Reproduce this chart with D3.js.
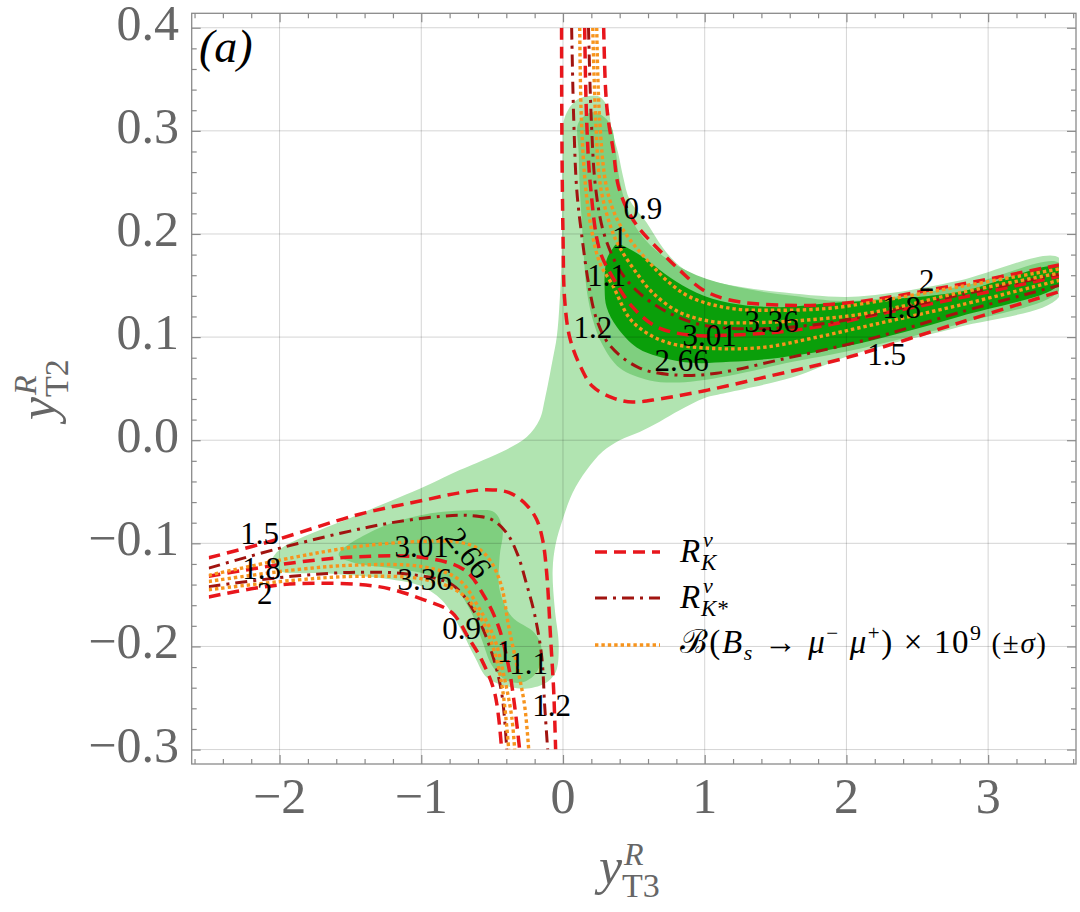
<!DOCTYPE html>
<html>
<head>
<meta charset="utf-8">
<script src="https://cdn.jsdelivr.net/npm/d3@7"></script>
<style>
  body { margin: 0; background: #fff; }
  svg { display: block; }
</style>
</head>
<body>
<svg width="1080" height="912" font-family="'Liberation Serif', 'DejaVu Serif', 'Noto Serif', Times, serif"></svg>
<script>
// ---- data ----
const xDomain = [-2.62, 3.62];
const yDomain = [-0.314, 0.414];
const xMajor = [-2, -1, 0, 1, 2, 3];
const xMajorLabels = ["\u22122", "\u22121", "0", "1", "2", "3"];
const yMajor = [-0.3, -0.2, -0.1, 0, 0.1, 0.2, 0.3, 0.4];
const yMajorLabels = ["\u22120.3", "\u22120.2", "\u22120.1", "0.0", "0.1", "0.2", "0.3", "0.4"];

// filled regions
const lightRegion = [[0.21,0.334],[0.259,0.333],[0.315,0.323],[0.344,0.301],[0.39,0.278],[0.425,0.255],[0.471,0.233],[0.591,0.211],[0.703,0.187],[0.823,0.169],[0.965,0.158],[1.155,0.151],[1.508,0.144],[2.0,0.139],[2.327,0.143],[2.8,0.155],[3.5,0.177],[3.5,0.139],[2.8,0.110],[2.327,0.094],[2.0,0.081],[1.621,0.061],[1.155,0.046],[1.0,0.041],[0.823,0.029],[0.682,0.018],[0.541,0.008],[0.40,0.0],[0.28,-0.011],[0.167,-0.029],[0.068,-0.051],[-0.002,-0.077],[-0.052,-0.101],[-0.073,-0.126],[-0.059,-0.162],[-0.03,-0.2],[-0.052,-0.225],[-0.129,-0.236],[-0.27,-0.241],[-0.411,-0.238],[-0.538,-0.230],[-0.623,-0.210],[-0.743,-0.178],[-0.856,-0.155],[-1.011,-0.141],[-1.209,-0.135],[-1.682,-0.129],[-1.998,-0.127],[-2.055,-0.118],[-1.998,-0.106],[-1.442,-0.072],[-0.976,-0.045],[-0.729,-0.029],[-0.609,-0.022],[-0.426,-0.011],[-0.256,0.003],[-0.165,0.020],[-0.129,0.039],[-0.073,0.078],[-0.044,0.100],[-0.023,0.136],[-0.009,0.181],[-0.002,0.278],[0.012,0.313],[0.097,0.330]];
const mediumUpper = [[0.139,0.313],[0.21,0.318],[0.294,0.313],[0.344,0.303],[0.372,0.281],[0.40,0.252],[0.45,0.226],[0.541,0.201],[0.703,0.179],[0.943,0.160],[1.247,0.148],[1.621,0.140],[2.0,0.135],[2.8,0.149],[3.5,0.172],[3.5,0.145],[2.8,0.113],[2.0,0.086],[1.621,0.076],[1.155,0.062],[0.823,0.056],[0.612,0.058],[0.40,0.070],[0.28,0.092],[0.21,0.117],[0.167,0.146],[0.146,0.181],[0.132,0.213],[0.118,0.245],[0.111,0.278],[0.104,0.306]];
const mediumLower = [[-1.583,-0.111],[-1.329,-0.087],[-0.976,-0.072],[-0.623,-0.068],[-0.482,-0.070],[-0.426,-0.087],[-0.447,-0.113],[-0.447,-0.145],[-0.362,-0.171],[-0.20,-0.187],[-0.15,-0.203],[-0.186,-0.225],[-0.291,-0.235],[-0.411,-0.232],[-0.503,-0.218],[-0.574,-0.193],[-0.658,-0.164],[-0.764,-0.143],[-0.941,-0.131],[-1.209,-0.124],[-1.47,-0.119]];
const darkUpper = [[0.351,0.186],[0.308,0.175],[0.294,0.146],[0.308,0.129],[0.379,0.110],[0.52,0.090],[0.703,0.080],[0.915,0.075],[1.176,0.076],[1.529,0.080],[2.0,0.091],[2.8,0.120],[3.5,0.151],[3.5,0.168],[2.8,0.144],[2.235,0.136],[1.882,0.133],[1.529,0.129],[1.176,0.133],[0.943,0.143],[0.753,0.158],[0.591,0.175],[0.45,0.187],[0.379,0.190]];

// R_K^nu contours (red dashed)
const rkUpOuter = [[-0.01,0.40],[-0.008,0.30],[0.0,0.20],[0.012,0.136],[0.047,0.100],[0.118,0.073],[0.21,0.052],[0.351,0.041],[0.492,0.037],[0.682,0.040],[1.0,0.048],[1.388,0.060],[2.0,0.080],[2.8,0.114],[3.5,0.144]];
const rkUpMid = [[0.153,0.40],[0.167,0.31],[0.195,0.245],[0.259,0.184],[0.351,0.158],[0.492,0.129],[0.661,0.110],[0.894,0.102],[1.198,0.102],[1.529,0.105],[1.882,0.112],[2.186,0.121],[2.8,0.138],[3.5,0.159]];
const rkUpInner = [[0.287,0.40],[0.301,0.339],[0.32,0.31],[0.355,0.281],[0.39,0.247],[0.46,0.222],[0.54,0.205],[0.682,0.184],[0.823,0.165],[0.986,0.146],[1.176,0.136],[1.529,0.131],[2.0,0.133],[2.8,0.151],[3.5,0.170]];
const rkLoOuter = [[-2.5,-0.114],[-2.035,-0.097],[-1.442,-0.072],[-0.976,-0.058],[-0.729,-0.051],[-0.538,-0.048],[-0.376,-0.051],[-0.256,-0.063],[-0.186,-0.077],[-0.143,-0.097],[-0.115,-0.129],[-0.087,-0.193],[-0.066,-0.242],[-0.052,-0.30]];
const rkLoMid = [[-2.5,-0.132],[-1.914,-0.119],[-1.442,-0.113],[-0.976,-0.114],[-0.694,-0.126],[-0.553,-0.152],[-0.454,-0.181],[-0.383,-0.220],[-0.341,-0.258],[-0.306,-0.30]];
const rkLoInner = [[-2.5,-0.152],[-2.148,-0.143],[-1.865,-0.139],[-1.301,-0.142],[-0.976,-0.155],[-0.785,-0.167],[-0.665,-0.192],[-0.574,-0.213],[-0.482,-0.245],[-0.433,-0.30]];

// R_K*^nu contours (dark red dash-dot)
const rksUpOuter = [[0.061,0.40],[0.076,0.31],[0.097,0.243],[0.132,0.199],[0.188,0.146],[0.238,0.117],[0.33,0.092],[0.541,0.07],[0.823,0.063],[1.084,0.065],[1.529,0.078],[2.186,0.099],[2.8,0.124],[3.5,0.150]];
const rksUpInner = [[0.18,0.40],[0.20,0.31],[0.23,0.245],[0.29,0.20],[0.40,0.165],[0.52,0.145],[0.70,0.127],[0.943,0.113],[1.296,0.108],[1.882,0.114],[2.8,0.141],[3.5,0.161]];
const rksLoOuter = [[-2.5,-0.124],[-2.035,-0.106],[-1.562,-0.090],[-1.209,-0.080],[-0.871,-0.074],[-0.658,-0.073],[-0.503,-0.077],[-0.397,-0.090],[-0.32,-0.111],[-0.256,-0.140],[-0.20,-0.169],[-0.15,-0.210],[-0.129,-0.258],[-0.108,-0.30]];
const rksLoInner = [[-2.5,-0.142],[-1.914,-0.132],[-1.442,-0.128],[-1.089,-0.130],[-0.785,-0.140],[-0.623,-0.167],[-0.503,-0.206],[-0.433,-0.245],[-0.397,-0.30]];

// B(Bs -> mu mu) x 10^9 contours (orange dotted)
const bsUpLow = [[0.118,0.40],[0.13,0.31],[0.16,0.245],[0.20,0.205],[0.26,0.172],[0.351,0.150],[0.471,0.118],[0.591,0.104],[0.753,0.094],[1.056,0.089],[1.409,0.090],[1.762,0.099],[2.186,0.112],[2.8,0.131],[3.5,0.155]];
const bsUpMid = [[0.21,0.40],[0.231,0.31],[0.266,0.245],[0.344,0.204],[0.40,0.187],[0.52,0.162],[0.633,0.143],[0.823,0.124],[1.056,0.115],[1.338,0.114],[1.762,0.117],[2.186,0.124],[2.8,0.143],[3.5,0.162]];
const bsUpHigh = [[0.238,0.40],[0.259,0.31],[0.308,0.245],[0.386,0.213],[0.492,0.191],[0.612,0.172],[0.732,0.155],[0.894,0.139],[1.176,0.128],[1.529,0.126],[1.882,0.128],[2.186,0.134],[2.8,0.149],[3.5,0.166]];
const bsLoTop = [[-2.5,-0.131],[-1.914,-0.114],[-1.442,-0.103],[-0.976,-0.098],[-0.729,-0.099],[-0.588,-0.106],[-0.503,-0.119],[-0.433,-0.142],[-0.383,-0.181],[-0.313,-0.226],[-0.27,-0.258],[-0.242,-0.30]];
const bsLoMid = [[-2.5,-0.137],[-1.914,-0.126],[-1.442,-0.121],[-0.976,-0.123],[-0.736,-0.135],[-0.596,-0.162],[-0.482,-0.193],[-0.411,-0.232],[-0.362,-0.268],[-0.341,-0.30]];
const bsLoLow = [[-2.5,-0.145],[-1.914,-0.136],[-1.442,-0.132],[-0.976,-0.135],[-0.715,-0.149],[-0.574,-0.174],[-0.482,-0.206],[-0.426,-0.242],[-0.383,-0.30]];

// contour labels
const labelText = ["0.9","1","1.1","1.2","3.01","3.36","2.66","2","1.8","1.5",
                   "1.5","1.8","2","3.01","2.66","3.36","0.9","1","1.1","1.2"];
const labelX = [0.564,0.40,0.308,0.21,1.035,1.472,0.838,2.566,2.39,2.284,
                -2.14,-2.126,-2.105,-0.997,-0.665,-0.976,-0.715,-0.411,-0.242,-0.08];
const labelY = [0.225,0.197,0.160,0.110,0.102,0.115,0.078,0.155,0.129,0.083,
                -0.090,-0.124,-0.148,-0.103,-0.109,-0.135,-0.182,-0.205,-0.216,-0.257];
const labelAngle = [0,0,0,0,0,0,0,0,0,0, 0,0,0,0,52,0,0,0,0,0];

// ---- drawing ----
const svg = d3.select("svg");
const x = d3.scaleLinear().domain(xDomain).range([191.7, 1076]);
const y = d3.scaleLinear().domain(yDomain).range([764, 13.3]);

const frameColor = "#8a8a8a";
const labelColor = "#666";

svg.append("defs").append("clipPath").attr("id", "dataClip")
  .append("rect")
  .attr("x", x(-2.5)).attr("y", y(0.4))
  .attr("width", x(3.5) - x(-2.5)).attr("height", y(-0.3) - y(0.4));

const shape = d3.line().x(d => x(d[0])).y(d => y(d[1]))
  .curve(d3.curveCatmullRomClosed.alpha(0.5));
const path = d3.line().x(d => x(d[0])).y(d => y(d[1]))
  .curve(d3.curveCatmullRom.alpha(0.5));

const fills = svg.append("g").attr("clip-path", "url(#dataClip)");
fills.append("path").attr("d", shape(lightRegion)).attr("fill", "#b1e4b1");
fills.append("path").attr("d", shape(mediumUpper)).attr("fill", "#7fcf7f");
fills.append("path").attr("d", shape(mediumLower)).attr("fill", "#7fcf7f");
fills.append("path").attr("d", shape(darkUpper)).attr("fill", "#0a9f0a");

// grid lines
const grid = svg.append("g").attr("stroke", "rgba(0,0,0,0.17)").attr("stroke-width", 1);
grid.selectAll(".gx").data(xMajor).enter().append("line")
  .attr("x1", d => x(d)).attr("x2", d => x(d))
  .attr("y1", y(yDomain[0])).attr("y2", y(yDomain[1]));
grid.selectAll(".gy").data(yMajor).enter().append("line")
  .attr("y1", d => y(d)).attr("y2", d => y(d))
  .attr("x1", x(xDomain[0])).attr("x2", x(xDomain[1]));

// contour lines
const styles = {
  rk:  { stroke: "#e8161c", width: 3.5, dash: "12,7" },
  rks: { stroke: "#a11410", width: 3,   dash: "12,6,3,6" },
  bs:  { stroke: "#f7941d", width: 3.4, dash: "3.4,3" }
};
const curveSets = [
  { style: "rk",  curves: [rkUpOuter, rkUpMid, rkUpInner, rkLoOuter, rkLoMid, rkLoInner] },
  { style: "rks", curves: [rksUpOuter, rksUpInner, rksLoOuter, rksLoInner] },
  { style: "bs",  curves: [bsUpLow, bsUpMid, bsUpHigh, bsLoTop, bsLoMid, bsLoLow] }
];
const lines = svg.append("g").attr("clip-path", "url(#dataClip)").attr("fill", "none");
curveSets.forEach(set => {
  const s = styles[set.style];
  lines.selectAll(null).data(set.curves).enter().append("path")
    .attr("d", d => path(d))
    .attr("stroke", s.stroke)
    .attr("stroke-width", s.width)
    .attr("stroke-dasharray", s.dash);
});

// contour labels
svg.append("g").selectAll("text").data(labelText).enter().append("text")
  .attr("transform", (d, i) => `translate(${x(labelX[i])},${y(labelY[i])}) rotate(${labelAngle[i]})`)
  .attr("text-anchor", "middle")
  .attr("dy", "0.35em")
  .attr("font-size", 31)
  .attr("fill", "#000")
  .text(d => d);

// frame
svg.append("rect")
  .attr("x", x(xDomain[0])).attr("y", y(yDomain[1]))
  .attr("width", x(xDomain[1]) - x(xDomain[0]))
  .attr("height", y(yDomain[0]) - y(yDomain[1]))
  .attr("fill", "none").attr("stroke", frameColor).attr("stroke-width", 1.3);

// ticks on all four sides
const xMinor = d3.range(-2.6, 3.61, 0.2).filter(v => Math.abs(v - Math.round(v)) > 1e-6);
const yMinor = d3.range(-0.30, 0.401, 0.02).filter(v => Math.abs(v * 10 - Math.round(v * 10)) > 1e-6);

function frameAxis(axisFn, scale, values, size, tx, ty) {
  const g = svg.append("g").attr("transform", `translate(${tx},${ty})`)
    .call(axisFn(scale).tickValues(values).tickSize(-size).tickFormat(""));
  g.select(".domain").remove();
  g.selectAll("line").attr("stroke", frameColor).attr("stroke-width", 1.2);
  return g;
}
frameAxis(d3.axisBottom, x, xMajor, 9, 0, y(yDomain[0]));
frameAxis(d3.axisBottom, x, xMinor, 5, 0, y(yDomain[0]));
frameAxis(d3.axisTop, x, xMajor, 9, 0, y(yDomain[1]));
frameAxis(d3.axisTop, x, xMinor, 5, 0, y(yDomain[1]));
frameAxis(d3.axisLeft, y, yMajor, 9, x(xDomain[0]), 0);
frameAxis(d3.axisLeft, y, yMinor, 5, x(xDomain[0]), 0);
frameAxis(d3.axisRight, y, yMajor, 9, x(xDomain[1]), 0);
frameAxis(d3.axisRight, y, yMinor, 5, x(xDomain[1]), 0);

// tick labels
svg.append("g").selectAll("text").data(xMajor).enter().append("text")
  .attr("x", d => x(d)).attr("y", 813)
  .attr("text-anchor", "middle").attr("font-size", 50).attr("fill", labelColor)
  .text((d, i) => xMajorLabels[i]);
svg.append("g").selectAll("text").data(yMajor).enter().append("text")
  .attr("x", 179).attr("y", d => y(d) + 12)
  .attr("text-anchor", "end").attr("font-size", 50).attr("fill", labelColor)
  .text((d, i) => yMajorLabels[i]);

// axis titles: y^R_T3 and y^R_T2
function axisTitle(g, sub) {
  g.append("text").attr("x", 0).attr("y", 0).attr("font-size", 52)
    .attr("font-style", "italic").attr("fill", labelColor).text("y");
  g.append("text").attr("x", 25).attr("y", -19).attr("font-size", 32)
    .attr("font-style", "italic").attr("fill", labelColor).text("R");
  g.append("text").attr("x", 23).attr("y", 13).attr("font-size", 34)
    .attr("fill", labelColor).text(sub);
}
axisTitle(svg.append("g").attr("transform", "translate(599,884)"), "T3");
axisTitle(svg.append("g").attr("transform", "translate(55,420) rotate(-90)"), "T2");

// panel tag
svg.append("text").attr("x", 199).attr("y", 62).attr("font-size", 46)
  .attr("font-style", "italic").attr("fill", "#000").text("(a)");

// legend
const legendY = [552, 598, 645];
const legendKeys = ["rk", "rks", "bs"];
const legend = svg.append("g");
legend.selectAll("line").data(legendKeys).enter().append("line")
  .attr("x1", 595).attr("x2", 660)
  .attr("y1", (d, i) => legendY[i]).attr("y2", (d, i) => legendY[i])
  .attr("stroke", d => styles[d].stroke)
  .attr("stroke-width", d => styles[d].width)
  .attr("stroke-dasharray", d => styles[d].dash);

function rLabel(base, kText) {
  legend.append("text").attr("x", 680).attr("y", base).attr("font-size", 33)
    .attr("font-style", "italic").text("R");
  legend.append("text").attr("x", 703).attr("y", base - 15).attr("font-size", 22)
    .attr("font-style", "italic").text("\u03BD");
  legend.append("text").attr("x", 701).attr("y", base + 8).attr("font-size", 23)
    .attr("font-style", "italic").text(kText);
}
rLabel(562, "K");
rLabel(608, "K*");

const bsText = legend.append("text").attr("x", 680).attr("y", 653).attr("font-size", 33)
  .attr("textLength", 366).attr("lengthAdjust", "spacing");
bsText.append("tspan").text("\u212C(");
bsText.append("tspan").attr("font-style", "italic").text("B");
bsText.append("tspan").attr("font-style", "italic").attr("font-size", 22).attr("dy", 7).text("s");
bsText.append("tspan").attr("dy", -7).text(" \u2192 ");
bsText.append("tspan").attr("font-style", "italic").text("\u03BC");
bsText.append("tspan").attr("font-size", 21).attr("dy", -13).text("\u2212");
bsText.append("tspan").attr("font-style", "italic").attr("dy", 13).text(" \u03BC");
bsText.append("tspan").attr("font-size", 21).attr("dy", -13).text("+");
bsText.append("tspan").attr("dy", 13).text(") \u00D7 10");
bsText.append("tspan").attr("font-size", 22).attr("dy", -13).text("9");
bsText.append("tspan").attr("dy", 13).attr("font-size", 29).text(" (\u00B1");
bsText.append("tspan").attr("font-size", 29).attr("font-style", "italic").text("\u03C3");
bsText.append("tspan").attr("font-size", 29).text(")");
</script>
</body>
</html>
